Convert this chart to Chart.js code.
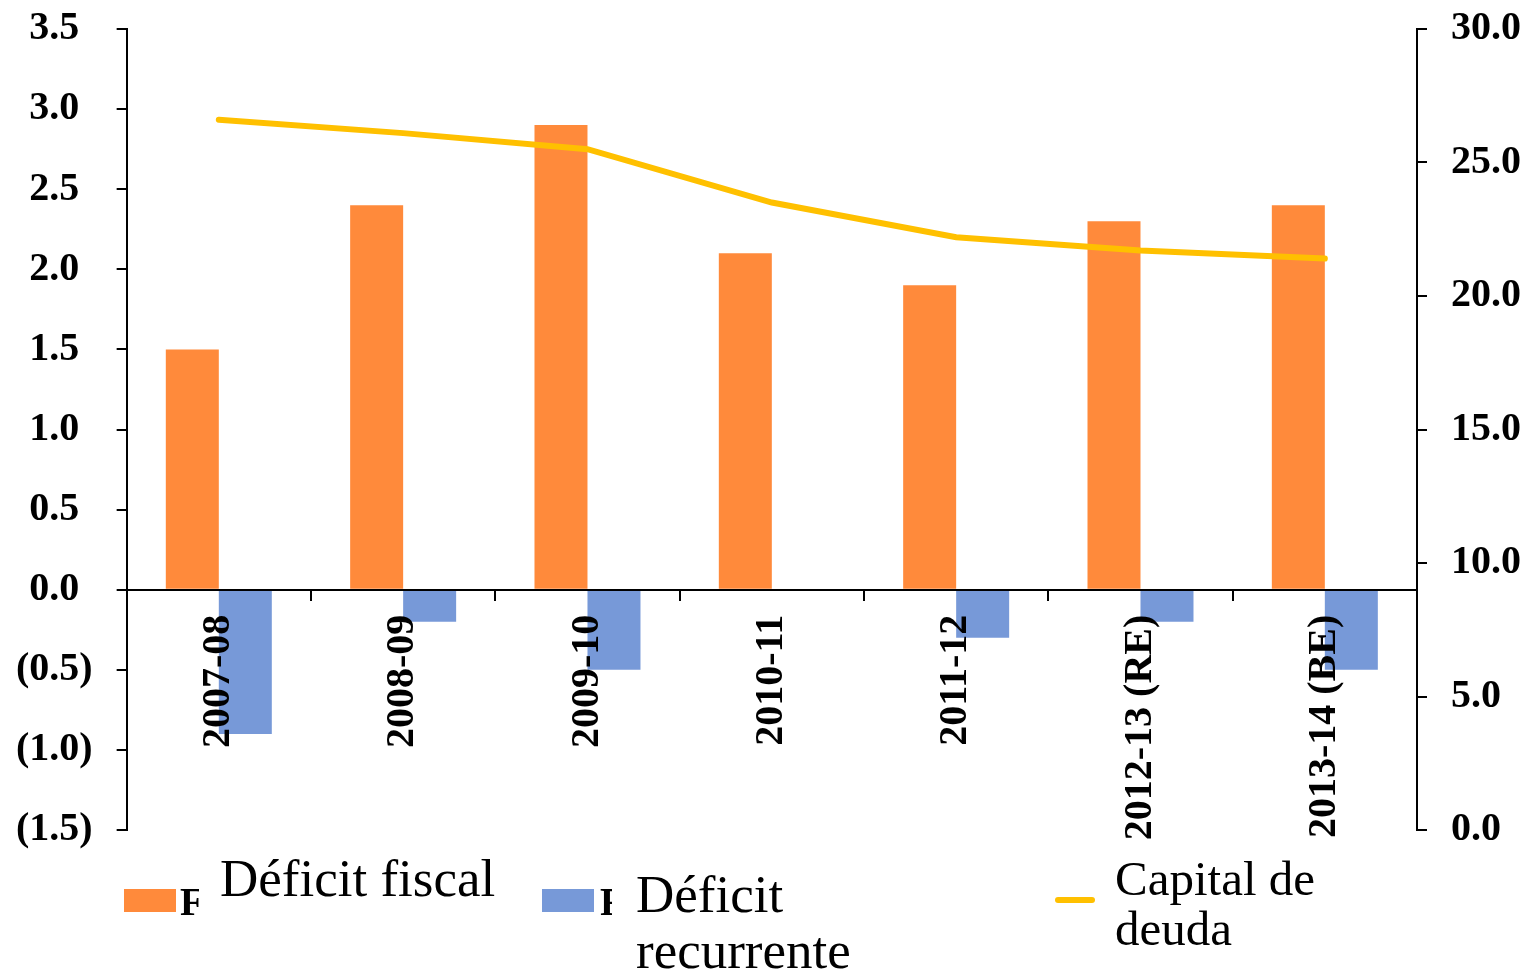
<!DOCTYPE html>
<html>
<head>
<meta charset="utf-8">
<script src="https://cdn.jsdelivr.net/npm/chart.js@4/dist/chart.umd.min.js"></script>
<style>
  html, body { margin: 0; padding: 0; background: #fff; }
  #wrap { position: relative; width: 1532px; height: 976px; overflow: hidden; }
  #wrap canvas { position: absolute; left: 0; top: -19px; }
  .leg { position: absolute; font-family: "Liberation Serif", "Times New Roman", serif; color: #000; white-space: nowrap; }
  .box { position: absolute; }
  .clip { position: absolute; overflow: hidden; font-family: "Liberation Serif", serif; font-weight: bold; font-size: 39px; line-height: 39px; color: #000; }
</style>
</head>
<body>
<div id="wrap">
  <canvas id="c" width="1532" height="995"></canvas>

  <div class="box" style="left:124px; top:889px; width:52px; height:23px; background:#FF8A3B;"></div>
  <div class="clip" style="left:180px; top:882px; width:19px; height:40px;">F</div>
  <div class="leg" style="left:216px; top:852px; font-size:53px; line-height:53px; background:#fff; padding:0 4px;">Déficit fiscal</div>

  <div class="box" style="left:542px; top:889px; width:52px; height:23px; background:#7799D8;"></div>
  <div class="clip" style="left:600px; top:882px; width:12px; height:40px;">F</div>
  <div class="leg" style="left:632px; top:866px; font-size:53px; line-height:56px; background:#fff; padding:0 4px;">Déficit<br>recurrente</div>

  <div class="box" style="left:1055px; top:897px; width:40px; height:6px; border-radius:3px; background:#FFC000;"></div>
  <div class="leg" style="left:1105px; top:843px; width:240px; height:115px; background:#fff;"></div>
  <div class="leg" style="left:1115px; top:854px; font-size:49px; line-height:50px;">Capital de<br>deuda</div>
</div>
<script>
const categories = ['2007-08', '2008-09', '2009-10', '2010-11', '2011-12', '2012-13 (RE)', '2013-14 (BE)'];
const deficitFiscal = [1.5, 2.4, 2.9, 2.1, 1.9, 2.3, 2.4];
const deficitRecurrente = [-0.9, -0.2, -0.5, 0, -0.3, -0.2, -0.5];
const capitalDeuda = [26.6, 26.1, 25.5, 23.5, 22.2, 21.7, 21.4];
const seriesNames = ['Déficit fiscal', 'Déficit recurrente', 'Capital de deuda'];

Chart.defaults.font.family = '"Liberation Serif", "Times New Roman", serif';
Chart.defaults.font.weight = 'bold';
Chart.defaults.font.size = 40;
Chart.defaults.color = '#000';

const axisBlack = '#000';

new Chart(document.getElementById('c'), {
  type: 'bar',
  data: {
    labels: categories,
    datasets: [
      {
        type: 'line',
        label: seriesNames[2],
        data: capitalDeuda,
        yAxisID: 'y1',
        borderColor: '#FFC000',
        backgroundColor: '#FFC000',
        borderWidth: 6,
        pointRadius: 0,
        tension: 0,
        fill: false,
        order: 0,
        borderCapStyle: 'round'
      },
      {
        label: seriesNames[0],
        data: deficitFiscal,
        yAxisID: 'y',
        backgroundColor: '#FF8A3B',
        barPercentage: 1,
        categoryPercentage: 0.575,
        order: 1
      },
      {
        label: seriesNames[1],
        data: deficitRecurrente,
        yAxisID: 'y',
        backgroundColor: '#7799D8',
        barPercentage: 1,
        categoryPercentage: 0.575,
        order: 1
      }
    ]
  },
  options: {
    responsive: false,
    animation: false,
    layout: { padding: { left: -8, right: -13, top: 8, bottom: 146 } },
    plugins: { legend: { display: false }, tooltip: { enabled: false } },
    scales: {
      x: {
        type: 'category',
        position: { y: 0 },
        offset: true,
        grid: { display: true, drawOnChartArea: false, drawTicks: true, tickLength: 10, color: axisBlack, lineWidth: 2, offset: true, z: 1 },
        border: { display: true, color: axisBlack, width: 2, z: 1 },
        ticks: { minRotation: 90, maxRotation: 90, autoSkip: false, padding: 15, color: axisBlack, z: 1 }
      },
      y: {
        position: 'left',
        min: -1.5,
        max: 3.5,
        grid: { drawOnChartArea: false, drawTicks: true, tickLength: 10, color: axisBlack, lineWidth: 2 },
        border: { display: true, color: axisBlack, width: 2 },
        ticks: {
          stepSize: 0.5,
          padding: 24,
          color: axisBlack,
          callback: v => v < 0 ? '(' + Math.abs(v).toFixed(1) + ')' : v.toFixed(1) + '\u2004'
        }
      },
      y1: {
        position: 'right',
        min: 0,
        max: 30,
        grid: { drawOnChartArea: false, drawTicks: true, tickLength: 10, color: axisBlack, lineWidth: 2 },
        border: { display: true, color: axisBlack, width: 2 },
        ticks: {
          stepSize: 5,
          padding: 24,
          color: axisBlack,
          callback: v => v.toFixed(1)
        }
      }
    }
  }
});
</script>
</body>
</html>
